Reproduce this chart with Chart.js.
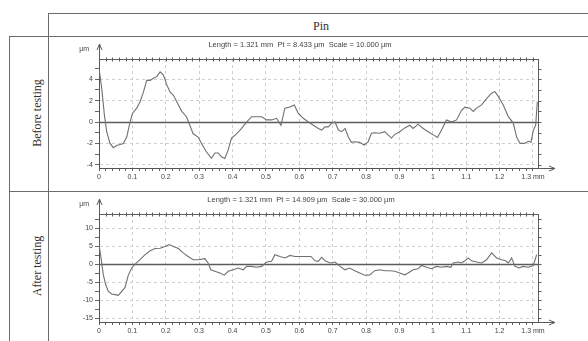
<!DOCTYPE html>
<html><head><meta charset="utf-8">
<script src="https://cdn.jsdelivr.net/npm/chart.js@4.4.1/dist/chart.umd.min.js"></script>
<style>
html,body{margin:0;padding:0;background:#fff;}
#wrap{position:relative;width:588px;height:341px;overflow:hidden;background:#fff;}
.ln{position:absolute;background:#6b6b6b;}
.txt{position:absolute;font-family:"Liberation Serif","Times New Roman",serif;color:#333;font-size:12px;white-space:nowrap;}
.ctr{transform:translate(-50%,-50%);}
.rot{transform:translate(-50%,-50%) rotate(-90deg);}
canvas{position:absolute;}
</style></head>
<body><div id="wrap">
<div class="ln" style="left:48px;top:13px;width:540px;height:1px"></div>
<div class="ln" style="left:48px;top:13px;width:1px;height:328px"></div>
<div class="ln" style="left:9px;top:36px;width:579px;height:1px"></div>
<div class="ln" style="left:9px;top:191px;width:579px;height:1px"></div>
<div class="ln" style="left:9px;top:36px;width:1px;height:305px"></div>
<div class="txt ctr" style="left:321px;top:26px">Pin</div>
<div class="txt rot" style="left:37px;top:113px">Before testing</div>
<div class="txt rot" style="left:37px;top:266px">After testing</div>
<canvas id="c1" width="538" height="152" style="left:50px;top:38px"></canvas>
<canvas id="c2" width="538" height="149" style="left:50px;top:192px"></canvas>
</div>
<script>
// ---- data (x in mm, profile height in µm) ----
const beforeX = [0,0.008,0.016,0.023,0.033,0.043,0.053,0.063,0.073,0.083,
 0.093,0.100,0.113,0.123,0.133,0.143,0.153,0.163,0.173,0.183,
 0.193,0.203,0.213,0.223,0.233,0.248,0.262,0.272,0.282,0.297,
 0.307,0.322,0.337,0.347,0.357,0.367,0.377,0.387,0.397,0.412,
 0.427,0.442,0.457,0.472,0.487,0.502,0.517,0.532,0.545,0.557,
 0.572,0.585,0.597,0.612,0.627,0.642,0.657,0.667,0.677,0.687,
 0.697,0.707,0.717,0.727,0.737,0.747,0.756,0.766,0.781,0.794,
 0.806,0.816,0.826,0.841,0.856,0.866,0.876,0.886,0.901,0.916,
 0.931,0.941,0.956,0.971,0.986,1.001,1.014,1.026,1.041,1.056,
 1.071,1.086,1.096,1.111,1.121,1.131,1.146,1.161,1.176,1.186,
 1.196,1.211,1.226,1.241,1.251,1.261,1.274,1.286,1.294,1.301,
 1.308,1.313];
const beforeY = [5.0,3.2,0.7,-0.9,-2.0,-2.4,-2.2,-2.1,-2.0,-1.4,
 0,0.8,1.3,1.9,2.8,3.9,3.9,4.1,4.25,4.7,
 4.4,3.5,2.8,2.5,1.9,1.0,0.5,-0.3,-1.1,-1.4,
 -2.0,-2.8,-3.4,-2.9,-2.9,-3.25,-3.4,-2.6,-1.5,-1.1,
 -0.6,0,0.5,0.5,0.5,0.2,0.2,0.35,-0.3,1.3,
 1.4,1.6,0.8,0.35,0,-0.3,-0.6,-0.75,-0.45,-0.45,
 -0.1,0,-0.75,-0.9,-0.6,-1.4,-1.9,-1.85,-1.9,-2.15,
 -1.85,-1.05,-1.0,-1.05,-0.9,-1.2,-1.5,-1.15,-0.9,-0.55,
 -0.3,-0.6,-0.2,-0.6,-0.9,-1.2,-1.45,-0.75,0.2,0,
 0.2,1.1,1.4,1.3,1.0,1.3,1.6,2.2,2.7,2.85,
 2.4,1.6,0.5,-0.1,-1.4,-2.0,-2.0,-1.8,-1.9,-0.75,
 -0.3,1.9];
const afterX = [0,0.006,0.013,0.020,0.028,0.038,0.048,0.058,0.068,0.078,
 0.088,0.098,0.108,0.123,0.138,0.153,0.168,0.183,0.198,0.210,
 0.223,0.238,0.252,0.267,0.282,0.297,0.317,0.327,0.335,0.347,
 0.362,0.375,0.387,0.402,0.417,0.432,0.442,0.457,0.472,0.487,
 0.502,0.517,0.527,0.542,0.557,0.572,0.587,0.602,0.617,0.635,
 0.647,0.657,0.667,0.677,0.692,0.707,0.722,0.737,0.751,0.766,
 0.781,0.796,0.811,0.826,0.841,0.856,0.871,0.886,0.901,0.916,
 0.926,0.941,0.956,0.966,0.981,0.996,1.011,1.026,1.041,1.054,
 1.061,1.076,1.086,1.096,1.106,1.116,1.131,1.146,1.161,1.176,
 1.191,1.206,1.218,1.226,1.236,1.246,1.258,1.270,1.286,1.301,
 1.311];
const afterY = [5.5,1.7,-3.0,-5.7,-7.6,-8.3,-8.5,-8.7,-7.6,-6.5,
 -3.0,-1.1,0,1.2,2.6,3.7,4.3,4.4,4.9,5.4,
 4.9,4.3,3.1,2.1,1.2,1.2,1.5,0.3,-1.6,-2.0,
 -2.5,-3.1,-2.0,-1.6,-1.1,-1.6,-0.65,-0.65,-0.9,-0.65,
 0.55,0.75,2.6,2.1,1.7,2.4,2.1,2.1,2.1,2.1,
 0.9,0.75,1.85,0.9,0.3,0.55,-0.65,-1.6,-1.1,-1.85,
 -2.5,-3.1,-3.0,-1.85,-1.6,-1.85,-1.85,-2.0,-2.5,-3.0,
 -2.5,-1.6,-1.3,-0.4,-0.9,-1.3,-0.65,-0.9,-0.65,-0.9,
 0.3,0.55,0.3,0.9,1.7,0.9,0.55,0.3,1.2,3.1,
 1.7,1.2,0.9,0.3,1.7,-0.65,-1.1,-0.65,-0.9,-0.4,
 2.6];
const beforeTitle = 'Length = 1.321 mm  Pt = 8.433 µm  Scale = 10.000 µm';
const afterTitle  = 'Length = 1.321 mm  Pt = 14.909 µm  Scale = 30.000 µm';
// tick labels
const xTickValues = [0,0.1,0.2,0.3,0.4,0.5,0.6,0.7,0.8,0.9,1,1.1,1.2,1.3];
const xTickLabels = ['0','0.1','0.2','0.3','0.4','0.5','0.6','0.7','0.8','0.9','1','1.1','1.2','1.3 mm'];
const beforeTickValues = [-4,-2,0,2,4];
const beforeTickLabels = ['-4','-2','0','2','4'];
const afterTickValues = [-15,-10,-5,0,5,10];
const afterTickLabels = ['-15','-10','-5','0','5','10'];
// axis ranges / minor tick steps
const xMax = 1.315, xMinorStep = 0.02;
const beforeRange = [-4.3, 5.9], beforeMinorStep = 1;
const afterRange  = [-16.1, 13.9], afterMinorStep = 2.5;

Chart.defaults.font.family = '"Liberation Sans", Arial, sans-serif';
const SANS = '"Liberation Sans", Arial, sans-serif';

function near(a, b){ return Math.abs(a - b) < 1e-6; }
function minorTicks(min, max, step){
  const out = [];
  const k0 = Math.ceil(min / step - 1e-9), k1 = Math.floor(max / step + 1e-9);
  for (let k = k0; k <= k1; k++) out.push({ value: +(k * step).toFixed(6) });
  return out;
}
function labelFor(v, vals, labs){ const i = vals.findIndex(t => near(t, v)); return i >= 0 ? labs[i] : ''; }
function gridColor(vals){
  return c => (c.tick && vals.some(t => near(t, c.tick.value)) && !near(c.tick.value, 0)) ? '#cfcfcf' : 'rgba(0,0,0,0)';
}

const framePlugin = {
  id: 'profileFrame',
  beforeDatasetsDraw(chart, args, opts){
    const {ctx, chartArea:a, scales:{x, y}} = chart;
    ctx.save();
    ctx.strokeStyle = '#5c5c5c';
    const y0 = Math.round(y.getPixelForValue(0)) + 0.5;
    ctx.lineWidth = 1.3;
    ctx.beginPath(); ctx.moveTo(a.left, y0); ctx.lineTo(a.right, y0); ctx.stroke();
    ctx.lineWidth = 1;
    const t = Math.round(a.top) + 0.5;
    ctx.beginPath(); ctx.moveTo(a.left, t); ctx.lineTo(a.right, t);
    x.ticks.forEach(tk => { const px = Math.round(x.getPixelForValue(tk.value)) + 0.5; ctx.moveTo(px, t - 2); ctx.lineTo(px, t + 2); });
    ctx.stroke();
    const r = Math.round(a.right) + 0.5;
    ctx.beginPath(); ctx.moveTo(r, a.top); ctx.lineTo(r, a.bottom);
    y.ticks.forEach(tk => { const py = Math.round(y.getPixelForValue(tk.value)) + 0.5; ctx.moveTo(r, py); ctx.lineTo(r + 3, py); });
    ctx.stroke();
    const l = Math.round(a.left) + 0.5;
    ctx.beginPath(); ctx.moveTo(l, a.top); ctx.lineTo(l, a.top - 14);
    ctx.moveTo(l - 2.5, a.top - 9); ctx.lineTo(l, a.top - 15); ctx.lineTo(l + 2.5, a.top - 9);
    ctx.stroke();
    const b = Math.round(a.bottom) + 0.5;
    ctx.beginPath(); ctx.moveTo(a.right, b); ctx.lineTo(a.right + 16, b);
    ctx.moveTo(a.right + 11, b - 2.5); ctx.lineTo(a.right + 17, b); ctx.lineTo(a.right + 11, b + 2.5);
    ctx.stroke();
    ctx.fillStyle = '#444';
    ctx.font = '7px ' + SANS;
    ctx.textBaseline = 'middle';
    ctx.textAlign = 'right';
    ctx.fillText('µm', a.left - 10, a.top - 10);
    ctx.textAlign = 'center';
    ctx.font = '7.5px ' + SANS;
    ctx.fillText(opts.title, opts.titleX, opts.titleY);
    ctx.restore();
  }
};

function makeChart(id, xs, ys, range, minorStep, yVals, yLabs, title, titleX, titleY, padTop, xAxisH){
  const pts = xs.map((v, i) => ({x: v, y: ys[i]}));
  return new Chart(document.getElementById(id), {
    type: 'line',
    data: { datasets: [{ data: pts, borderColor: '#707070', borderWidth: 1.1, pointRadius: 0, tension: 0, fill: false }] },
    options: {
      responsive: false, animation: false,
      layout: { padding: { left: 0, right: 50, top: padTop, bottom: 0 } },
      plugins: { legend: { display: false }, tooltip: { enabled: false },
        profileFrame: { title: title, titleX: titleX, titleY: titleY } },
      scales: {
        x: {
          type: 'linear', min: 0, max: xMax,
          afterFit(s){ s.height = xAxisH; },
          afterBuildTicks(s){ s.ticks = minorTicks(0, xMax, xMinorStep); },
          ticks: { autoSkip: false, maxRotation: 0, minRotation: 0, padding: 2, color: '#444', font: { size: 7 },
            callback(v){ return labelFor(v, xTickValues, xTickLabels); } },
          grid: { color: gridColor(xTickValues), tickColor: '#666', tickLength: 3, lineWidth: 1 },
          border: { display: true, color: '#555', width: 1, dash: [3, 3] }
        },
        y: {
          type: 'linear', min: range[0], max: range[1],
          afterFit(s){ s.width = 49; },
          afterBuildTicks(s){ s.ticks = minorTicks(range[0], range[1], minorStep); },
          ticks: { autoSkip: false, padding: 2, color: '#444', font: { size: 7 },
            callback(v){ return labelFor(v, yVals, yLabs); } },
          grid: { color: gridColor(yVals), tickColor: '#666', tickLength: 4, lineWidth: 1 },
          border: { display: true, color: '#555', width: 1, dash: [3, 3] }
        }
      }
    },
    plugins: [framePlugin]
  });
}

makeChart('c1', beforeX, beforeY, beforeRange, beforeMinorStep, beforeTickValues, beforeTickLabels, beforeTitle, 250, 7, 21, 22);
makeChart('c2', afterX, afterY, afterRange, afterMinorStep, afterTickValues, afterTickLabels, afterTitle, 251, 8, 22, 19);
</script>
</body></html>
